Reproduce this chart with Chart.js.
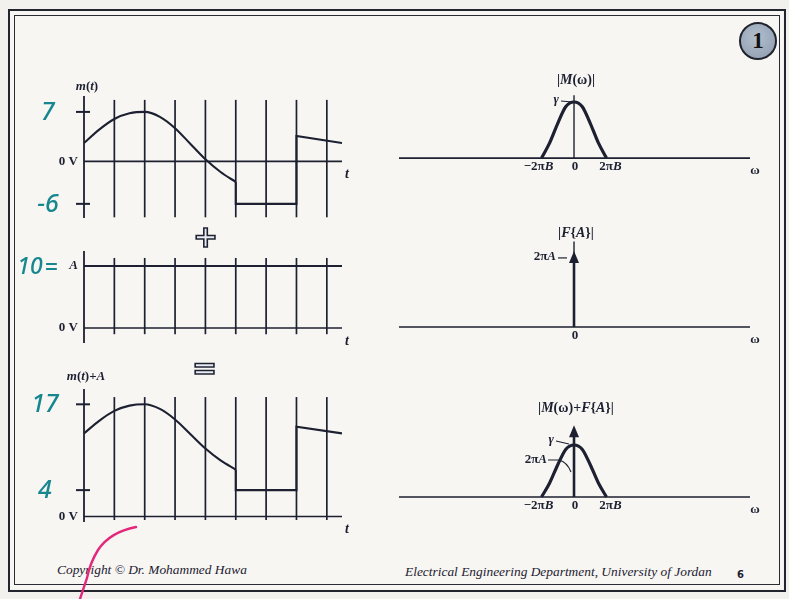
<!DOCTYPE html>
<html>
<head>
<meta charset="utf-8">
<script src="https://cdn.jsdelivr.net/npm/chart.js@4.4.1/dist/chart.umd.min.js"></script>
<style>
  html, body { margin: 0; padding: 0; }
  body {
    width: 789px; height: 599px; position: relative; overflow: hidden;
    background: #f2f1ee; font-family: 'Liberation Serif', 'DejaVu Serif', serif; color: #1c2030;
  }
  .slide { position: absolute; left: 9px; top: 10px; width: 774px; height: 579px; background: #f7f6f3; }
  .frame-outer { position: absolute; left: 8px; top: 9px; width: 774px; height: 579px; border: 2px solid #23252e; }
  .frame-inner { position: absolute; left: 14px; top: 15px; width: 764px; height: 568px; border: 1.3px solid #2a2c35; }
  canvas { position: absolute; }
  .badge {
    position: absolute; left: 739px; top: 22px; width: 34px; height: 34px; border-radius: 50%;
    background: radial-gradient(circle at 45% 40%, #b3bfcd, #8b9aae); border: 2px solid #20232b;
    font: bold 23px 'Liberation Serif', serif; color: #111; text-align: center; line-height: 34px;
  }
  .op {
    position: absolute; font: bold 30px 'DejaVu Sans', sans-serif; color: #e9edf3;
    -webkit-text-stroke: 1.6px #1c2030; line-height: 1;
  }
  .foot { position: absolute; font: italic 13.4px 'Liberation Serif', serif; color: #1c2030; white-space: nowrap; }
  .pagenum { position: absolute; left: 737px; top: 569px; font: bold 10px 'DejaVu Sans', sans-serif; color: #1c2030; }
  svg.ink { position: absolute; left: 0; top: 0; }
</style>
</head>
<body>
<div class="slide"></div>
<div class="frame-outer"></div>
<div class="frame-inner"></div>
<div class="badge">1</div>

<canvas id="mt"></canvas>
<canvas id="dc"></canvas>
<canvas id="sum"></canvas>
<canvas id="Mw"></canvas>
<canvas id="FA"></canvas>
<canvas id="Sw"></canvas>

<div class="op" style="left:193px; top:222px;">+</div>
<div class="op" style="left:192px; top:353px;">=</div>

<div class="foot" style="left:57px; top:562px;">Copyright © Dr. Mohammed Hawa</div>
<div class="foot" style="left:405px; top:564px;">Electrical Engineering Department, University of Jordan</div>
<div class="pagenum">6</div>

<svg class="ink" width="789" height="599">
  <path d="M136 527 Q 110 532 98 550 Q 90 563 87 578 L 80 599" fill="none" stroke="#e3287c" stroke-width="2.4" stroke-linecap="round"/>
</svg>

<script>
// ---- time-domain data (t in grid divisions, values in volts) ----
const timeGrid = [0, 1, 2, 3, 4, 5, 6, 7, 8];
const tEnd = 8.5;
const tSmooth = [0, 0.5, 1, 1.5, 2, 2.5, 3, 3.5, 4, 4.5, 5];
const mSmooth = [2.6, 4.5, 6.0, 6.8, 7.0, 6.3, 4.7, 2.5, 0.3, -1.5, -2.9];
const tStep = [5, 5, 7, 7, 8.5];
const mStep = [-2.9, -6, -6, 3.6, 2.6];
const A = 10;
const mTicks = [7, -6];
const mTickLabels = ['7', '-6'];
const sumTicks = [17, 4];
const sumTickLabels = ['17', '4'];

// ---- frequency-domain data (omega in units of 2πB, magnitude in units of γ) ----
const omegaHump = [-1, -0.75, -0.5, -0.25, 0, 0.25, 0.5, 0.75, 1];
const humpMag = [0, 0.27, 0.62, 0.92, 1, 0.92, 0.62, 0.27, 0];
const omegaTicks = [-1, 0, 1];
const omegaTickLabels = [['−2π', 'B'], ['0', ''], ['2π', 'B']];
const gammaLevel = 1;
const impulseHeight = 1.38;

// m(t) + A
const sumSmooth = mSmooth.map(v => v + A);
const sumStep = mStep.map(v => v + A);

const INK = '#1c2030';
const HAND = '#17878f';
const SERIF = "'Liberation Serif', 'DejaVu Serif', serif";
const HANDFONT = "'Noto Sans', 'DejaVu Sans', sans-serif";

function pts(xs, ys) { return xs.map((x, i) => ({ x, y: ys[i] })); }

// draw a run of [text, italic] pieces
function drawRuns(ctx, parts, x, y, align, size, bold) {
  const w = bold ? 'bold ' : '';
  let total = 0;
  parts.forEach(([s, it]) => {
    ctx.font = (it ? 'italic ' : '') + w + size + 'px ' + SERIF;
    total += ctx.measureText(s).width;
  });
  let cx = align === 'center' ? x - total / 2 : align === 'right' ? x - total : x;
  ctx.textAlign = 'left';
  ctx.textBaseline = 'middle';
  parts.forEach(([s, it]) => {
    ctx.font = (it ? 'italic ' : '') + w + size + 'px ' + SERIF;
    ctx.fillText(s, cx, y);
    cx += ctx.measureText(s).width;
  });
}

function line(ctx, x1, y1, x2, y2, w) {
  ctx.beginPath();
  ctx.lineWidth = w;
  ctx.moveTo(x1, y1);
  ctx.lineTo(x2, y2);
  ctx.stroke();
}

// Each panel is its own chart; decorations are drawn in page coordinates
// (the context is shifted by the canvas offset and scale pixels are shifted to match).
function makePanel(id, box, plot, xr, yr, datasets, under, over) {
  const cv = document.getElementById(id);
  cv.width = box.w; cv.height = box.h;
  cv.style.left = box.x + 'px'; cv.style.top = box.y + 'px';
  const pad = {
    left: plot.l - box.x, top: plot.t - box.y,
    right: box.x + box.w - plot.r, bottom: box.y + box.h - plot.b
  };
  const run = (chart, fn) => {
    const ctx = chart.ctx;
    const X = v => chart.scales.x.getPixelForValue(v) + box.x;
    const Y = v => chart.scales.y.getPixelForValue(v) + box.y;
    ctx.save();
    ctx.translate(-box.x, -box.y);
    ctx.strokeStyle = INK; ctx.fillStyle = INK;
    fn(ctx, X, Y);
    ctx.restore();
  };
  return new Chart(cv, {
    type: 'scatter',
    data: { datasets },
    options: {
      responsive: false, animation: false, devicePixelRatio: 1,
      layout: { padding: pad },
      plugins: { legend: { display: false }, tooltip: { enabled: false } },
      elements: { point: { radius: 0 } },
      scales: {
        x: { type: 'linear', display: false, min: xr[0], max: xr[1] },
        y: { type: 'linear', display: false, min: yr[0], max: yr[1] }
      }
    },
    plugins: [{
      id: 'decor-' + id,
      beforeDatasetsDraw(chart) { run(chart, under); },
      afterDatasetsDraw(chart) { run(chart, over); }
    }]
  });
}

function curveSet(data, width, tension) {
  return {
    data, showLine: true, borderColor: INK, borderWidth: width,
    tension, cubicInterpolationMode: tension ? 'monotone' : 'default', pointRadius: 0, fill: false
  };
}

// shared pieces of the time-domain panels
function timeAxes(ctx, X, Y, gridRange, axisRange) {
  timeGrid.forEach(t => {
    const x = X(t);
    const r = t === 0 ? axisRange : gridRange;
    line(ctx, x, Y(r[1]), x, Y(r[0]), t === 0 ? 1.8 : 1.7);
  });
  const y0 = Y(0);
  line(ctx, X(0), y0, X(tEnd), y0, 1.7);
  ctx.fillStyle = INK;
  drawRuns(ctx, [['0 V', false]], X(0) - 6, y0, 'right', 13, true);
  drawRuns(ctx, [['t', true]], X(tEnd) + 5, y0 + 13, 'center', 14, true);
}

function handTicks(ctx, X, Y, vals, labels, cx) {
  const x0 = X(0);
  vals.forEach((v, i) => {
    const y = Y(v);
    ctx.strokeStyle = INK;
    line(ctx, x0 - 8, y, x0 + 6, y, 2);
    ctx.fillStyle = HAND;
    ctx.font = 'italic 500 25px ' + HANDFONT;
    ctx.textAlign = 'center'; ctx.textBaseline = 'middle';
    ctx.fillText(labels[i], cx, y + 1);
  });
}

// ---------- m(t) ----------
makePanel('mt', { x: 0, y: 70, w: 380, h: 160 }, { l: 84, r: 342, t: 96, b: 218 },
  [0, tEnd], [-8, 9.25],
  [curveSet(pts(tSmooth, mSmooth), 2.1, 0.4), curveSet(pts(tStep, mStep), 2.1, 0)],
  (ctx, X, Y) => { timeAxes(ctx, X, Y, [-7.9, 8.7], [-8, 9.25]); },
  (ctx, X, Y) => {
    ctx.fillStyle = INK;
    drawRuns(ctx, [['m', true], ['(', false], ['t', true], [')', false]], 87, 87, 'center', 13, true);
    handTicks(ctx, X, Y, mTicks, mTickLabels, 48);
  });

// ---------- constant A ----------
makePanel('dc', { x: 0, y: 236, w: 380, h: 118 }, { l: 84, r: 342, t: 251, b: 343 },
  [0, tEnd], [-2.42, 12.42],
  [curveSet([{ x: 0, y: A }, { x: tEnd, y: A }], 2.1, 0)],
  (ctx, X, Y) => { timeAxes(ctx, X, Y, [-1, 11.3], [-2.42, 12.42]); },
  (ctx, X, Y) => {
    const y = Y(A);
    ctx.fillStyle = INK;
    drawRuns(ctx, [['A', true]], 78, y, 'right', 13, true);
    ctx.fillStyle = HAND;
    ctx.font = 'italic 500 23px ' + HANDFONT;
    ctx.textAlign = 'center'; ctx.textBaseline = 'middle';
    ctx.fillText(String(A), 30, y + 1);
    ctx.fillText('=', 51, y + 2);
  });

// ---------- m(t) + A ----------
makePanel('sum', { x: 0, y: 360, w: 380, h: 175 }, { l: 84, r: 342, t: 389, b: 522 },
  [0, tEnd], [-0.83, 19.32],
  [curveSet(pts(tSmooth, sumSmooth), 2.1, 0.4), curveSet(pts(tStep, sumStep), 2.1, 0)],
  (ctx, X, Y) => { timeAxes(ctx, X, Y, [-0.53, 18.1], [-0.83, 19.32]); },
  (ctx, X, Y) => {
    ctx.fillStyle = INK;
    drawRuns(ctx, [['m', true], ['(', false], ['t', true], [')+', false], ['A', true]], 86, 377, 'center', 13, true);
    handTicks(ctx, X, Y, sumTicks, sumTickLabels, 45);
  });

// ---------- spectra ----------
const OMEGA_RANGE = [-5.385, 5.415];

function freqAxes(ctx, X, Y, title, titleY, vTop) {
  const y0 = Y(0);
  const x0 = X(0);
  line(ctx, X(OMEGA_RANGE[0]), y0, X(OMEGA_RANGE[1]), y0, 1.7);
  if (vTop !== null) line(ctx, x0, y0, x0, Y(vTop), 1.4);
  ctx.fillStyle = INK;
  drawRuns(ctx, title, x0 + 2, titleY, 'center', 14, true);
  drawRuns(ctx, [['ω', false]], 755, y0 + 13, 'center', 13, true);
}

function freqTicks(ctx, X, Y, which) {
  const y0 = Y(0);
  ctx.fillStyle = INK;
  which.forEach(i => {
    const x = X(omegaTicks[i]);
    const lbl = omegaTickLabels[i];
    drawRuns(ctx, [[lbl[0], false], [lbl[1], true]], x + (i === 0 ? -3 : i === 2 ? 4 : 1), y0 + 9, 'center', 13, true);
  });
}

function arrowHead(ctx, x, yTip) {
  ctx.beginPath();
  ctx.moveTo(x, yTip);
  ctx.lineTo(x - 5, yTip + 12);
  ctx.lineTo(x + 5, yTip + 12);
  ctx.closePath();
  ctx.fill();
}

// |M(ω)|
makePanel('Mw', { x: 385, y: 62, w: 404, h: 122 }, { l: 399, r: 750, t: 94, b: 176 },
  OMEGA_RANGE, [-0.32, 1.143],
  [curveSet(pts(omegaHump, humpMag), 3.2, 0.4)],
  (ctx, X, Y) => {
    freqAxes(ctx, X, Y, [['|', false], ['M', true], ['(ω)|', false]], 80, 1.12);
  },
  (ctx, X, Y) => {
    freqTicks(ctx, X, Y, [0, 1, 2]);
    const y = Y(gammaLevel);
    const x0 = X(0);
    line(ctx, x0 - 13, y - 1, x0 - 2, y, 1.2);
    drawRuns(ctx, [['γ', true]], x0 - 15, y - 2, 'right', 13, true);
  });

// |F{A}|
makePanel('FA', { x: 385, y: 215, w: 404, h: 140 }, { l: 399, r: 750, t: 241, b: 345 },
  OMEGA_RANGE, [-0.327, 1.56],
  [curveSet([{ x: 0, y: 0 }, { x: 0, y: impulseHeight - 0.15 }], 2.6, 0)],
  (ctx, X, Y) => {
    freqAxes(ctx, X, Y, [['|', false], ['F', true], ['{', false], ['A', true], ['}|', false]], 233, 1.55);
  },
  (ctx, X, Y) => {
    freqTicks(ctx, X, Y, [1]);
    const x0 = X(0);
    const yTip = Y(impulseHeight);
    arrowHead(ctx, x0, yTip);
    line(ctx, x0 - 16, yTip + 7, x0 - 7, yTip + 7, 1.2);
    drawRuns(ctx, [['2π', false], ['A', true]], x0 - 18, yTip + 6, 'right', 13, true);
  });

// |M(ω)+F{A}|
makePanel('Sw', { x: 385, y: 392, w: 404, h: 133 }, { l: 399, r: 750, t: 415, b: 515 },
  OMEGA_RANGE, [-0.346, 1.577],
  [curveSet(pts(omegaHump, humpMag), 3.2, 0.4),
   curveSet([{ x: 0, y: 0 }, { x: 0, y: impulseHeight - 0.15 }], 2.6, 0)],
  (ctx, X, Y) => {
    freqAxes(ctx, X, Y, [['|', false], ['M', true], ['(ω)+', false], ['F', true], ['{', false], ['A', true], ['}|', false]], 408, null);
  },
  (ctx, X, Y) => {
    freqTicks(ctx, X, Y, [0, 1, 2]);
    const x0 = X(0);
    arrowHead(ctx, x0, Y(impulseHeight));
    // γ pointer to the hump peak
    const yg = Y(gammaLevel);
    line(ctx, x0 - 18, yg - 4, x0 - 5, yg - 1, 1.1);
    drawRuns(ctx, [['γ', true]], x0 - 20, yg - 5, 'right', 13, true);
    // 2πA pointer to the impulse
    const ya = yg + 15;
    ctx.lineWidth = 1.1;
    ctx.beginPath();
    ctx.moveTo(x0 - 26, ya);
    ctx.lineTo(x0 - 15, ya);
    ctx.quadraticCurveTo(x0 - 7, ya + 2, x0 - 3, ya + 12);
    ctx.stroke();
    drawRuns(ctx, [['2π', false], ['A', true]], x0 - 27, ya, 'right', 13, true);
  });
</script>
</body>
</html>
